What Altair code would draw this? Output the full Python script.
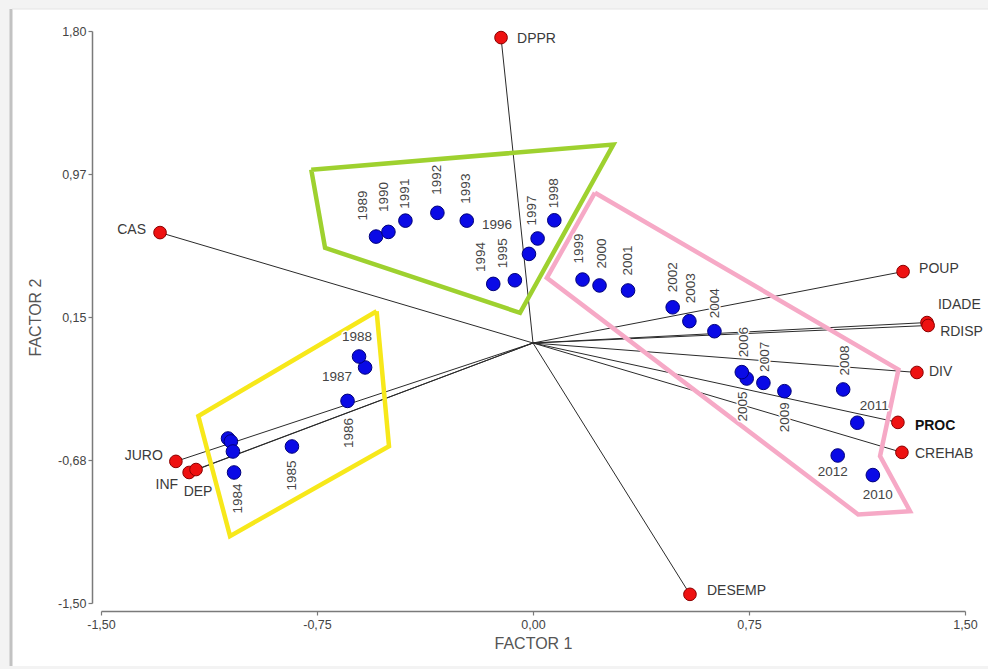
import altair as alt
import pandas as pd

FONT = "Liberation Sans, Arial, sans-serif"

# ---- variable loadings (FACTOR 1, FACTOR 2) ----
var_names = ["DPPR", "CAS", "POUP", "IDADE", "RDISP", "DIV", "PROC", "CREHAB",
             "DESEMP", "JURO", "INF", "DEP"]
var_f1 = [-0.111, -1.295, 1.285, 1.368, 1.372, 1.333, 1.267, 1.281,
          0.545, -1.240, -1.194, -1.170]
var_f2 = [1.762, 0.637, 0.412, 0.118, 0.101, -0.170, -0.458, -0.631,
          -1.450, -0.683, -0.747, -0.730]

# ---- year scores (FACTOR 1, FACTOR 2); unnamed points carry no label ----
year_names = ["", "", "", "1984", "1985", "1986", "1987", "1988", "1989", "1990",
              "1991", "1992", "1993", "1994", "1995", "1996", "1997", "1998",
              "1999", "2000", "2001", "2002", "2003", "2004", "2005", "2006",
              "2007", "2008", "2009", "2010", "2011", "2012"]
year_f1 = [-1.059, -1.049, -1.042, -1.038, -0.837, -0.644, -0.583, -0.604, -0.545, -0.502,
           -0.443, -0.332, -0.230, -0.138, -0.063, -0.014, 0.016, 0.074,
           0.172, 0.231, 0.330, 0.485, 0.543, 0.630, 0.742, 0.725,
           0.800, 1.077, 0.873, 1.180, 1.126, 1.058]
year_f2 = [-0.551, -0.568, -0.626, -0.747, -0.597, -0.334, -0.141, -0.078, 0.614, 0.641,
           0.706, 0.751, 0.706, 0.341, 0.362, 0.514, 0.603, 0.708,
           0.366, 0.332, 0.303, 0.206, 0.126, 0.068, -0.205, -0.168,
           -0.230, -0.268, -0.278, -0.762, -0.460, -0.649]

# ---- group outlines ----
hull_names = ["verde", "rosa", "amarelo"]
hull_f1 = {
    "verde": [-0.770, 0.279, -0.045, -0.722],
    "rosa": [0.215, 1.269, 1.205, 1.309, 1.129, 0.048],
    "amarelo": [-0.543, -0.500, -1.052, -1.162],
}
hull_f2 = {
    "verde": [1.000, 1.145, 0.174, 0.549],
    "rosa": [0.867, -0.153, -0.653, -0.970, -0.989, 0.376],
    "amarelo": [0.183, -0.595, -1.114, -0.422],
}
hull_colors = ["#9ed12f", "#f6a9c6", "#f7e81a"]

# ---- axis ticks ----
x_ticks = [-1.5, -0.75, 0.0, 0.75, 1.5]
y_ticks = [-1.5, -0.675, 0.15, 0.975, 1.8]

# ---- plot geometry ----
PLOT_W, PLOT_H = 864, 572
X_DOMAIN = [-1.5, 1.5]
Y_DOMAIN = [-1.5, 1.8]
PX_X = PLOT_W / (X_DOMAIN[1] - X_DOMAIN[0])
PX_Y = PLOT_H / (Y_DOMAIN[1] - Y_DOMAIN[0])

# label placement in pixels relative to the point: (dx, dy, align)
var_label_pos = {
    "DPPR": (16, 1, "left"), "CAS": (-14, -3, "right"), "POUP": (16, -3, "left"),
    "IDADE": (11, -18, "left"), "RDISP": (12, 7, "left"), "DIV": (12, 0, "left"),
    "PROC": (17, 4, "left"), "CREHAB": (13, 2, "left"), "DESEMP": (17, -3, "left"),
    "JURO": (-13, -5, "right"), "INF": (-11, 13, "right"), "DEP": (2, 22, "center"),
}
# (dx, dy, angle)
year_label_pos = {
    "1984": (4, 26, 270), "1985": (0, 29, 270), "1986": (1.5, 32, 270),
    "1987": (-28, 10, 0), "1988": (-2, -20, 0), "1989": (-13, -31, 270),
    "1990": (-4, -35, 270), "1991": (0, -27, 270), "1992": (0, -33, 270),
    "1993": (-1, -32, 270), "1994": (-12, -27, 270), "1995": (-12, -27, 270),
    "1996": (-32, -29, 0), "1997": (-6, -28, 270), "1998": (0, -27, 270),
    "1999": (-3.5, -31, 270), "2000": (2, -32, 270), "2001": (0, -30, 270),
    "2002": (0, -30, 270), "2003": (2, -33, 270), "2004": (1, -28, 270),
    "2005": (-4, 28, 270), "2006": (2, -30, 270), "2007": (2, -26, 270),
    "2008": (2, -29, 270), "2009": (1, 26, 270), "2010": (5, 20, 0),
    "2011": (17, -17, 0), "2012": (-5, 17, 0),
}

# ---- tables ----
vars_df = pd.DataFrame({"name": var_names, "f1": var_f1, "f2": var_f2})
vars_df["o1"] = 0.0
vars_df["o2"] = 0.0
years_df = pd.DataFrame({"name": year_names, "f1": year_f1, "f2": year_f2})

hull_rows = []
for h in hull_names:
    xs, ys = hull_f1[h], hull_f2[h]
    for i, (a, b) in enumerate(list(zip(xs, ys)) + [(xs[0], ys[0])]):
        hull_rows.append({"hull": h, "i": i, "f1": a, "f2": b})
hull_df = pd.DataFrame(hull_rows)

label_rows = []
for n, a, b in zip(var_names, var_f1, var_f2):
    dx, dy, al = var_label_pos[n]
    label_rows.append({"text": n, "lx": a + dx / PX_X, "ly": b - dy / PX_Y,
                       "angle": 0, "anchor": al, "kind": "bold" if n == "PROC" else "var"})
for n, a, b in zip(year_names, year_f1, year_f2):
    if not n:
        continue
    dx, dy, ang = year_label_pos[n]
    label_rows.append({"text": n, "lx": a + dx / PX_X, "ly": b - dy / PX_Y,
                       "angle": ang, "anchor": "center", "kind": "year"})
labels_df = pd.DataFrame(label_rows)

# ---- scales & axes ----
xscale = alt.Scale(domain=X_DOMAIN, nice=False, zero=False)
yscale = alt.Scale(domain=Y_DOMAIN, nice=False, zero=False)
tick_expr = "replace(replace(format(datum.value, '.2f'), '.', ','), '\u2212', '-')"
common_axis = dict(grid=False, domainColor="#7a7a7a", domainWidth=1.5,
                   tickColor="#7a7a7a", tickWidth=1.2, tickSize=4,
                   labelFont=FONT, labelFontSize=12.5, labelColor="#444444",
                   labelFlush=False, labelOverlap=False,
                   titleFont=FONT, titleFontSize=16, titleFontWeight="normal",
                   titleColor="#555555", zindex=1)
xaxis = alt.Axis(values=x_ticks, labelExpr=tick_expr, title="FACTOR 1",
                 offset=8, labelPadding=3, titlePadding=5, **common_axis)
yaxis = alt.Axis(values=y_ticks, labelExpr=tick_expr, title="FACTOR 2",
                 offset=9, labelPadding=2, titlePadding=14, **common_axis)


def X(f):
    return alt.X(f"{f}:Q", scale=xscale, axis=xaxis)


def Y(f):
    return alt.Y(f"{f}:Q", scale=yscale, axis=yaxis)


one = pd.DataFrame({"k": [0]})

# white card with a soft edge on the left and top
card = alt.Chart(one).mark_rect(color="white").encode(
    x=alt.value(-89), x2=alt.value(887), y=alt.value(-22), y2=alt.value(635))
card_left = alt.Chart(one).mark_rule(color="#c2c2c2", strokeWidth=3).encode(
    x=alt.value(-90), y=alt.value(-22), y2=alt.value(635))
card_top = alt.Chart(one).mark_rule(color="#e4e4e4", strokeWidth=1).encode(
    x=alt.value(-89), x2=alt.value(887), y=alt.value(-22))

rays = alt.Chart(vars_df).mark_rule(color="#2a2a2a", strokeWidth=1).encode(
    x=X("o1"), y=Y("o2"), x2="f1:Q", y2="f2:Q")

hulls = alt.Chart(hull_df).mark_line(strokeWidth=4.5, strokeJoin="miter").encode(
    x=X("f1"), y=Y("f2"), order="i:Q", detail="hull:N",
    color=alt.Color("hull:N", scale=alt.Scale(domain=hull_names, range=hull_colors),
                    legend=None))

var_pts = alt.Chart(vars_df).mark_circle(
    size=160, opacity=1, color="#ee1111", stroke="#8a0000", strokeWidth=1
).encode(x=X("f1"), y=Y("f2"))

year_pts = alt.Chart(years_df).mark_circle(
    size=185, opacity=1, color="#0a0ae6", stroke="#00007a", strokeWidth=1
).encode(x=X("f1"), y=Y("f2"))


def text_layer(df, halo, **mark):
    style = dict(font=FONT, baseline="middle")
    style.update(mark)
    if halo:
        style.update(color="white", stroke="white", strokeWidth=3, strokeJoin="round")
    return alt.Chart(df).mark_text(**style).encode(
        x=X("lx"), y=Y("ly"), text="text:N",
        angle=alt.Angle("angle:Q", scale=None))


text_layers = []
for halo in (True, False):
    yl = labels_df[labels_df["kind"] == "year"]
    text_layers.append(text_layer(yl, halo, align="center", fontSize=13.5, color="#444444"))
    for al in ("left", "right", "center"):
        vl = labels_df[(labels_df["kind"] == "var") & (labels_df["anchor"] == al)]
        if len(vl):
            text_layers.append(text_layer(vl, halo, align=al, fontSize=14, color="#3a3a3a"))
    bl = labels_df[labels_df["kind"] == "bold"]
    text_layers.append(text_layer(bl, halo, align="left", fontSize=14,
                                  fontWeight="bold", color="#111111"))

chart = alt.layer(
    card, card_left, card_top, rays, hulls, var_pts, year_pts, *text_layers
).properties(
    width=PLOT_W, height=PLOT_H,
    autosize=alt.AutoSizeParams(type="none"),
    padding={"left": 101, "top": 31, "right": 23, "bottom": 66},
    background="#f3f3f3",
).configure_view(strokeWidth=0)

chart.save("out.html", embed_options={"renderer": "svg", "actions": False})
